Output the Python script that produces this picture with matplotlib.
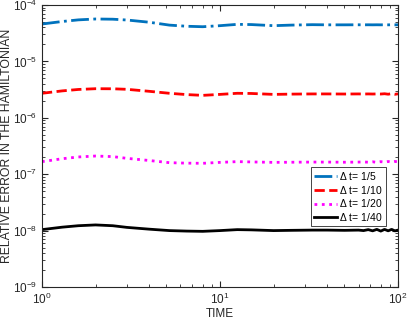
import matplotlib
matplotlib.use('Agg')
import matplotlib.pyplot as plt
from matplotlib.ticker import LogLocator, NullFormatter

plt.rcParams['font.family'] = 'Liberation Sans'
plt.rcParams['mathtext.fontset'] = 'custom'
plt.rcParams['mathtext.rm'] = 'Liberation Sans'
plt.rcParams['mathtext.it'] = 'Liberation Sans'

# time samples
time = [1, 1.3, 1.6, 2, 2.5, 3, 4, 5.2, 6.5, 8, 10, 12.5, 15, 20, 25, 33, 40, 50,
        60, 64, 68, 72, 76, 80, 84, 88, 92, 96, 100]

err_5 = [4.6e-5, 5.1e-5, 5.45e-5, 5.65e-5, 5.6e-5, 5.42e-5, 4.95e-5, 4.4e-5, 4.2e-5, 4.12e-5,
         4.3e-5, 4.54e-5, 4.5e-5, 4.3e-5, 4.4e-5, 4.48e-5, 4.45e-5, 4.45e-5,
         4.46e-5, 4.45e-5, 4.46e-5, 4.45e-5, 4.46e-5, 4.45e-5, 4.46e-5, 4.45e-5, 4.46e-5, 4.45e-5, 4.46e-5]
err_10 = [2.72e-6, 3.0e-6, 3.18e-6, 3.28e-6, 3.27e-6, 3.2e-6, 2.95e-6, 2.72e-6, 2.58e-6, 2.5e-6,
          2.6e-6, 2.72e-6, 2.7e-6, 2.6e-6, 2.63e-6, 2.65e-6, 2.65e-6, 2.64e-6,
          2.65e-6, 2.64e-6, 2.65e-6, 2.64e-6, 2.65e-6, 2.64e-6, 2.67e-6, 2.62e-6, 2.68e-6, 2.61e-6, 2.66e-6]
err_20 = [1.67e-7, 1.88e-7, 2.02e-7, 2.1e-7, 2.05e-7, 1.91e-7, 1.75e-7, 1.6e-7, 1.57e-7, 1.56e-7,
          1.62e-7, 1.67e-7, 1.65e-7, 1.62e-7, 1.63e-7, 1.64e-7, 1.64e-7, 1.63e-7,
          1.64e-7, 1.65e-7, 1.63e-7, 1.66e-7, 1.62e-7, 1.67e-7, 1.63e-7, 1.68e-7, 1.63e-7, 1.68e-7, 1.66e-7]
err_40 = [1.04e-8, 1.15e-8, 1.22e-8, 1.26e-8, 1.22e-8, 1.14e-8, 1.06e-8, 1.0e-8, 0.98e-8, 0.97e-8,
          1.0e-8, 1.04e-8, 1.03e-8, 1.0e-8, 1.01e-8, 1.02e-8, 1.02e-8, 1.01e-8,
          1.02e-8, 1.0e-8, 1.04e-8, 0.99e-8, 1.05e-8, 0.98e-8, 1.05e-8, 0.99e-8, 1.05e-8, 0.99e-8, 1.02e-8]

labels = [r'$\Delta$ t= 1/5', r'$\Delta$ t= 1/10', r'$\Delta$ t= 1/20', r'$\Delta$ t= 1/40']

fig = plt.figure(figsize=(4.07, 3.23), dpi=100)
ax = fig.add_axes([0.103, 0.1115, 0.875, 0.873])

ax.loglog(time, err_5, color='#0072BD', linestyle='-.', lw=2, label=labels[0])
ax.loglog(time, err_10, color='#FF0000', linestyle='--', lw=2, label=labels[1])
ax.loglog(time, err_20, color='#FF00FF', linestyle=':', lw=2, label=labels[2])
ax.loglog(time, err_40, color='black', linestyle='-', lw=2, label=labels[3])

ax.set_xlim(1, 100)
ax.set_ylim(1e-9, 1e-4)
ax.yaxis.set_major_locator(LogLocator(base=10, numticks=10))
ax.yaxis.set_minor_locator(LogLocator(base=10, subs=range(2, 10), numticks=10))
ax.yaxis.set_minor_formatter(NullFormatter())
ax.xaxis.set_minor_formatter(NullFormatter())

ax.tick_params(which='both', direction='in', top=True, right=True, colors='#262626',
               labelsize=8.5, labelcolor='#262626')
ax.tick_params(which='major', length=4)
ax.tick_params(which='minor', length=2)
for s in ax.spines.values():
    s.set_color('#262626')
    s.set_linewidth(0.8)

ax.set_xlabel('TIME', fontsize=8.5, color='#262626', labelpad=1)
ax.set_ylabel('RELATIVE ERROR IN THE HAMILTONIAN', fontsize=8.8, color='#262626', labelpad=0)

leg = ax.legend(loc='upper right', bbox_to_anchor=(0.966, 0.4255), borderaxespad=0,
                fontsize=7.5, handlelength=2.2, handletextpad=0.2, labelspacing=0.15,
                borderpad=0.3, fancybox=False, framealpha=1, edgecolor='#262626')
leg.get_frame().set_linewidth(0.6)

fig.savefig('out.png', dpi=100, facecolor='white')
